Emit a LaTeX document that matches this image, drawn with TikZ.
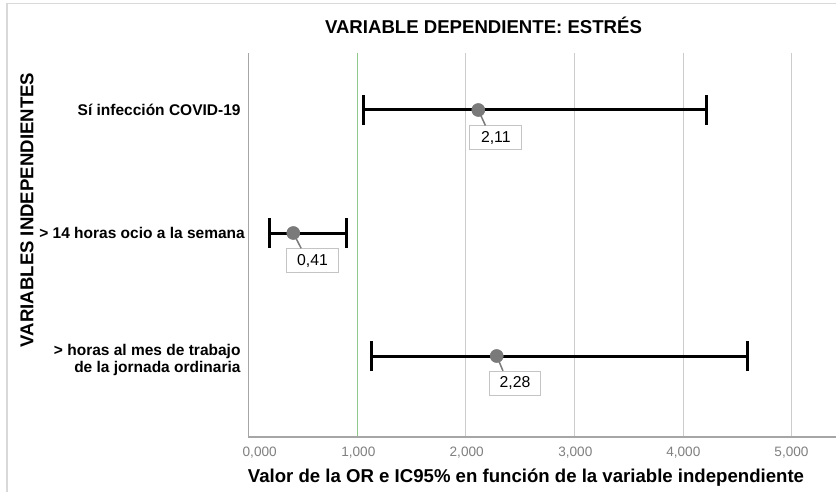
\documentclass[tikz,border=0pt]{standalone}
\usepackage{fontspec}
\setmainfont{Liberation Sans}
\usetikzlibrary{calc}
\definecolor{framec}{HTML}{D9D9D9}
\definecolor{axisc}{HTML}{A6A6A6}
\definecolor{gridc}{HTML}{CCCCCC}
\definecolor{refc}{HTML}{90C88A}
\definecolor{ptc}{HTML}{7A7A7A}
\definecolor{boxc}{HTML}{C4C4C4}
\definecolor{tickc}{HTML}{808080}
\tikzset{
  gridline/.style={draw=gridc, line width=1.2pt},
  refline/.style={draw=refc, line width=1.4pt},
  axisline/.style={draw=axisc, line width=1.4pt},
  ebar/.style={draw=black, line width=3pt},
  ecap/.style={draw=black, line width=3pt},
  pt/.style={circle, fill=ptc, minimum size=13.4pt, inner sep=0pt},
  leader/.style={draw=ptc, line width=1.5pt},
  vbox/.style={draw=boxc, fill=white, line width=1pt, minimum width=51.7pt, minimum height=24pt, inner sep=0pt, font=\fontsize{15.8pt}{17pt}\selectfont},
  rowlab/.style={anchor=east, align=right, inner sep=0pt, font=\bfseries\fontsize{15.5pt}{16.5pt}\selectfont},
  ticklab/.style={text=tickc, inner sep=0pt, font=\fontsize{13.6pt}{15pt}\selectfont},
  bigtitle/.style={inner sep=0pt, font=\bfseries\fontsize{18.6pt}{20pt}\selectfont},
}
\begin{document}
\begin{tikzpicture}[x=1pt,y=-1pt]
\useasboundingbox (0,0) rectangle (836,492);
\fill[white] (0,0) rectangle (836,492);
% outer frame
\draw[framec, line width=1.2pt] (7,492) -- (7,3.3) -- (836,3.3);
% grid
\foreach \gx in {465.7,574.3,683.3,791.7} {
  \draw[gridline] (\gx,53) -- (\gx,437);
}
\draw[refline] (357.3,53) -- (357.3,437);
% axes
\coordinate (ytop) at (248.3,53);
\coordinate (orig) at (248.3,437);
\coordinate (xend) at (836,437);
\draw[axisline] (ytop) -- (orig) -- (xend);
% tick labels
\node[ticklab] (t0) at (259.7,453) {0,000};
\node[ticklab] (t1) at (358.3,453) {1,000};
\node[ticklab] (t2) at (466.7,453) {2,000};
\node[ticklab] (t3) at (575.3,453) {3,000};
\node[ticklab] (t4) at (683.3,453) {4,000};
\node[ticklab] (t5) at (791.5,453) {5,000};
% titles
\node[bigtitle] (title) at (483.5,25) {VARIABLE DEPENDIENTE: ESTRÉS};
\node[bigtitle, rotate=90] (ytitle) at (27,210) {VARIABLES INDEPENDIENTES};
\node[bigtitle] (xtitle) at (526,478) {Valor de la OR e IC95\% en función de la variable independiente};
% row labels
\node[rowlab] (r1) at (240.7,110) {Sí infección COVID-19};
\node[rowlab] (r2) at (245,233) {> 14 horas ocio a la semana};
\node[rowlab] (r3) at (240.7,360) {> horas al mes de trabajo\\de la jornada ordinaria};
% error bars
\coordinate (lo1) at (363.3,110); \coordinate (hi1) at (706,110);
\coordinate (lo2) at (269.3,233); \coordinate (hi2) at (346.7,233);
\coordinate (lo3) at (371.7,356); \coordinate (hi3) at (747.7,356);
\foreach \a/\b in {lo1/hi1,lo2/hi2,lo3/hi3} {
  \draw[ebar] (\a) -- (\b);
  \draw[ecap] ([yshift=-15pt]\a) -- ([yshift=15pt]\a);
  \draw[ecap] ([yshift=-15pt]\b) -- ([yshift=15pt]\b);
}
% value boxes
\node[vbox] (b1) at (495.8,138) {2,11};
\node[vbox] (b2) at (312.5,260.8) {0,41};
\node[vbox] (b3) at (515,383.3) {2,28};
% points
\node[pt] (p1) at (478.3,110) {};
\node[pt] (p2) at (293.3,233) {};
\node[pt] (p3) at (496.7,356) {};
% leaders
\draw[leader] (p1.center) -- ([xshift=16pt]b1.north west);
\draw[leader] (p2.center) -- ([xshift=15pt]b2.north west);
\draw[leader] (p3.center) -- ([xshift=14.3pt]b3.north west);
\node[pt] at (p1) {};
\node[pt] at (p2) {};
\node[pt] at (p3) {};
\end{tikzpicture}
\end{document}
